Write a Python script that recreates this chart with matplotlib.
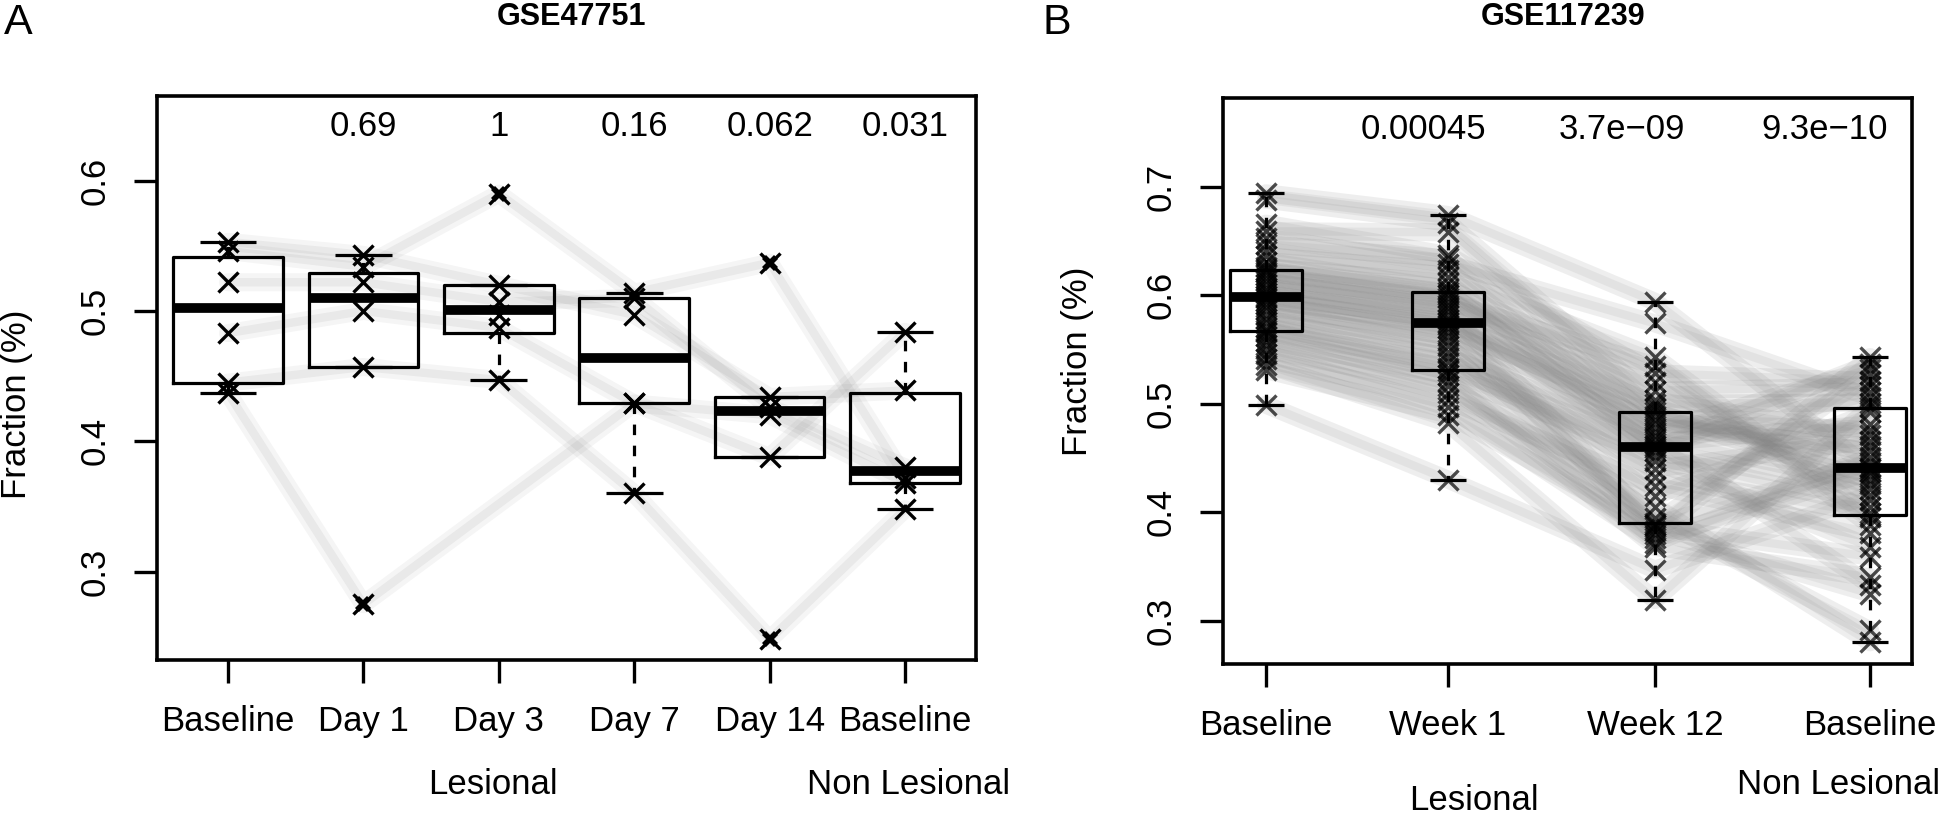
import matplotlib
matplotlib.use("Agg")
import matplotlib.pyplot as plt

plt.rcParams['font.family'] = ['Liberation Sans', 'DejaVu Sans']

W, H, DPI = 1945, 815, 100

# ======================================================
# DATA - GSE47751 (panel A)
# ======================================================
A_LABELS = ["Baseline", "Day 1", "Day 3", "Day 7", "Day 14", "Baseline"]
A_PVALS = ["0.69", "1", "0.16", "0.062", "0.031"]

# one row per subject, one column per time point (None = missing)
A_SUBJECTS = [
    [0.553, 0.543, 0.520, 0.497, 0.434, 0.439],
    [0.546, 0.534, 0.590, 0.514, 0.537, 0.372],
    [0.522, 0.522, 0.507, 0.510, 0.426, 0.380],
    [0.483, 0.500, 0.487, 0.429, 0.388, 0.484],
    [0.445, 0.457, 0.447, 0.360, 0.248, 0.348],
    [0.437, 0.275, None, 0.429, 0.420, 0.368],
    [None, None, 0.497, None, None, None],
]
A_MED = [0.502, 0.510, 0.501, 0.464, 0.423, 0.377]
A_Q1 = [0.445, 0.457, 0.483, 0.429, 0.388, 0.368]
A_Q3 = [0.541, 0.529, 0.520, 0.510, 0.434, 0.437]
A_WLO = [0.437, 0.457, 0.447, 0.360, 0.388, 0.348]
A_WHI = [0.553, 0.543, 0.520, 0.514, 0.434, 0.484]
A_OUT = [[], [0.275], [0.590], [], [0.537, 0.248], []]

# ======================================================
# DATA - GSE117239 (panel B)
# ======================================================
B_LABELS = ["Baseline", "Week 1", "Week 12", "Baseline"]
B_PVALS = ["0.00045", "3.7e\u221209", "9.3e\u221210"]

B_BASE = [0.499, 0.531, 0.536, 0.541, 0.546, 0.550, 0.554, 0.558, 0.562, 0.566,
          0.568, 0.571, 0.575, 0.578, 0.582, 0.586, 0.589, 0.592, 0.595, 0.597,
          0.599, 0.602, 0.605, 0.607, 0.610, 0.613, 0.616, 0.619, 0.621, 0.623,
          0.626, 0.631, 0.636, 0.641, 0.647, 0.653, 0.659, 0.666, 0.688, 0.694]
B_WEEK1 = [0.430, 0.490, 0.482, 0.503, 0.497, 0.516, 0.510, 0.526, 0.521, 0.538,
           0.530, 0.533, 0.548, 0.543, 0.558, 0.553, 0.566, 0.562, 0.573, 0.570,
           0.578, 0.575, 0.585, 0.582, 0.591, 0.588, 0.597, 0.594, 0.603, 0.600,
           0.611, 0.606, 0.623, 0.617, 0.634, 0.629, 0.658, 0.637, 0.667, 0.674]
B_WEEK12 = [0.347, 0.383, 0.319, 0.424, 0.372, 0.405, 0.390, 0.452, 0.368, 0.440,
            0.376, 0.461, 0.386, 0.470, 0.415, 0.395, 0.482, 0.432, 0.380, 0.489,
            0.447, 0.500, 0.388, 0.467, 0.512, 0.456, 0.478, 0.535, 0.459, 0.496,
            0.464, 0.520, 0.474, 0.543, 0.485, 0.574, 0.492, 0.528, 0.503, 0.594]
B_NL = [0.416, 0.325, 0.497, 0.381, 0.451, 0.280, 0.527, 0.405, 0.340, 0.466,
        0.437, 0.511, 0.359, 0.426, 0.492, 0.291, 0.476, 0.399, 0.543, 0.430,
        0.368, 0.501, 0.446, 0.333, 0.516, 0.421, 0.461, 0.388, 0.537, 0.442,
        0.481, 0.411, 0.532, 0.396, 0.456, 0.506, 0.434, 0.521, 0.471, 0.440]
B_MED = [0.598, 0.574, 0.460, 0.441]
B_Q1 = [0.567, 0.531, 0.390, 0.397]
B_Q3 = [0.623, 0.603, 0.492, 0.496]
B_WLO = [0.499, 0.430, 0.319, 0.280]
B_WHI = [0.694, 0.674, 0.594, 0.543]

# ======================================================
# LAYOUT
# ======================================================
A_POS = [1, 2, 3, 4, 5, 6]
A_XLIM = (0.476, 6.524)
A_YLIM = (0.2322, 0.6649)
A_PVAL_Y = 0.6417

B_POS = [1.0, 2.0, 3.137, 4.319]
B_XLIM = (0.764, 4.549)
B_YLIM = (0.2605, 0.7818)
B_PVAL_X = [1.863, 2.956, 4.071]
B_PVAL_Y = 0.753

FS = 25
LINE_GREY = (0.5, 0.5, 0.5)


def draw_boxes(ax, pos, med, q1, q3, wlo, whi, width, capw):
    stats = [dict(med=med[i], q1=q1[i], q3=q3[i], whislo=wlo[i], whishi=whi[i], fliers=[])
             for i in range(len(med))]
    ax.bxp(stats, positions=pos, widths=width, capwidths=capw, showfliers=False,
           boxprops=dict(color="black", linewidth=2.3),
           whiskerprops=dict(color="black", linewidth=2.3, linestyle=(0, (3.3, 3.3))),
           capprops=dict(color="black", linewidth=2.3, solid_capstyle="butt"),
           medianprops=dict(color="black", linewidth=7, solid_capstyle="butt"),
           manage_ticks=False, zorder=3)


def style_axes(ax, pos, labels, yticks, xlim, ylim):
    ax.set_xlim(*xlim)
    ax.set_ylim(*ylim)
    for s in ax.spines.values():
        s.set_linewidth(2.6)
    ax.set_xticks(pos)
    ax.set_xticklabels(labels)
    ax.set_yticks(yticks)
    ax.set_yticklabels([f"{t:.1f}" for t in yticks])
    ax.tick_params(axis="both", direction="out", length=16.5, width=2.4, labelsize=FS)
    ax.tick_params(axis="x", pad=16)
    ax.tick_params(axis="y", pad=16)
    for lab in ax.get_yticklabels():
        lab.set_rotation(90)
        lab.set_va("center")


fig = plt.figure(figsize=(W / DPI, H / DPI), dpi=DPI)
axA = fig.add_axes([157 / W, 1 - 660 / H, (976 - 157) / W, (660 - 96) / H])
axB = fig.add_axes([1223 / W, 1 - 663.5 / H, (1912 - 1223) / W, (663.5 - 98) / H])

# --- panel A ---
for subj in A_SUBJECTS:
    xs = [A_POS[i] for i, v in enumerate(subj) if v is not None]
    ys = [v for v in subj if v is not None]
    if len(xs) > 1:
        axA.plot(xs, ys, color=LINE_GREY, alpha=0.08, lw=13, solid_capstyle="round", zorder=1)
        axA.plot(xs, ys, color=LINE_GREY, alpha=0.10, lw=6, solid_capstyle="round", zorder=1)
draw_boxes(axA, A_POS, A_MED, A_Q1, A_Q3, A_WLO, A_WHI, 0.81, 0.42)
for subj in A_SUBJECTS:
    for i, v in enumerate(subj):
        if v is not None:
            axA.plot(A_POS[i], v, "x", color="black", ms=14, mew=2.4, zorder=4)
for i, outs in enumerate(A_OUT):
    for v in outs:
        axA.plot(A_POS[i], v, "X", color="black", ms=11, mew=0, zorder=4)
for i, p in enumerate(A_PVALS):
    axA.text(A_POS[i + 1], A_PVAL_Y, p, ha="center", va="center", fontsize=FS)
style_axes(axA, A_POS, A_LABELS, [0.3, 0.4, 0.5, 0.6], A_XLIM, A_YLIM)

# --- panel B ---
B_GROUPS = [B_BASE, B_WEEK1, B_WEEK12, B_NL]
for j in range(len(B_BASE)):
    ys = [g[j] for g in B_GROUPS]
    axB.plot(B_POS, ys, color=LINE_GREY, alpha=0.13, lw=13, solid_capstyle="round", zorder=1)
    axB.plot(B_POS, ys, color=LINE_GREY, alpha=0.10, lw=6, solid_capstyle="round", zorder=1)
draw_boxes(axB, B_POS, B_MED, B_Q1, B_Q3, B_WLO, B_WHI, 0.396, 0.2)
for i, g in enumerate(B_GROUPS):
    axB.plot([B_POS[i]] * len(g), g, "x", color="black", alpha=0.7, ms=14, mew=2.4, zorder=4)
for i, p in enumerate(B_PVALS):
    axB.text(B_PVAL_X[i], B_PVAL_Y, p, ha="center", va="center", fontsize=FS)
style_axes(axB, B_POS, B_LABELS, [0.3, 0.4, 0.5, 0.6, 0.7], B_XLIM, B_YLIM)

# --- figure texts ---
def ftext(x, y, s, **kw):
    fig.text(x / W, 1 - y / H, s, ha="center", va="center", **kw)

ftext(18, 23, "A", fontsize=31)
ftext(1057, 23, "B", fontsize=31)
ftext(571, 17, "GSE47751", fontsize=22, fontweight="bold")
ftext(1563, 17, "GSE117239", fontsize=22, fontweight="bold")
ftext(17, 404, "Fraction (%)", fontsize=FS, rotation=90)
ftext(1077, 361, "Fraction (%)", fontsize=FS, rotation=90)
ftext(493, 785, "Lesional", fontsize=FS)
ftext(909, 785, "Non Lesional", fontsize=FS)
ftext(1474, 800, "Lesional", fontsize=FS)
ftext(1839, 785, "Non Lesional", fontsize=FS)

fig.savefig("out.png", dpi=DPI)
